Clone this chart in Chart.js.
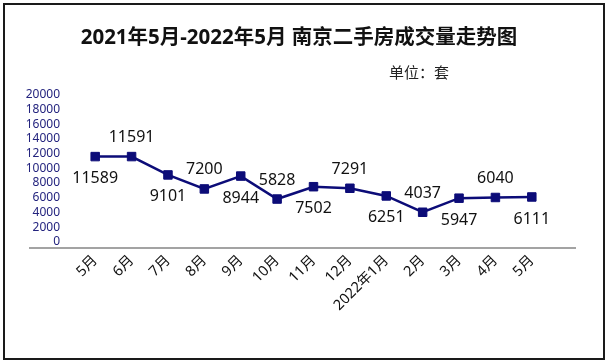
<!DOCTYPE html>
<html>
<head>
<meta charset="utf-8">
<script src="https://cdn.jsdelivr.net/npm/chart.js@4.4.0/dist/chart.umd.min.js"></script>
<style>
  html, body { margin: 0; padding: 0; background: #fff; }
  #wrap { position: relative; width: 607px; height: 364px; }
  #frame { position: absolute; left: 3px; top: 3px; width: 598px; height: 353px; border: 2px solid #1a1a1a; pointer-events: none; }
  canvas { position: absolute; left: 0; top: 0; }
</style>
</head>
<body>
<div id="wrap">
  <canvas id="chart" width="607" height="364"></canvas>
  <div id="frame"></div>
</div>
<script>
// 南京二手房成交量 (套), 2021年5月 - 2022年5月
const months = ['5月', '6月', '7月', '8月', '9月', '10月', '11月', '12月', '2022年1月', '2月', '3月', '4月', '5月'];
const volumes = [11589, 11591, 9101, 7200, 8944, 5828, 7502, 7291, 6251, 4037, 5947, 6040, 6111];
const yTicks = [0, 2000, 4000, 6000, 8000, 10000, 12000, 14000, 16000, 18000, 20000];

const FONT = '"Noto Sans", "Noto Sans CJK SC", sans-serif';
const NAVY = '#0c0c78';

// gray baseline under the plot, unit text and value labels
const extras = {
    id: 'extras',
    afterDatasetsDraw(chart) {
        const { ctx, chartArea } = chart;
        ctx.save();
        ctx.strokeStyle = '#a3a3a3';
        ctx.lineWidth = 2;
        ctx.beginPath();
        ctx.moveTo(29, chartArea.bottom + 6);
        ctx.lineTo(576, chartArea.bottom + 6);
        ctx.stroke();

        ctx.fillStyle = '#222';
        ctx.font = '15px ' + FONT;
        ctx.textAlign = 'left';
        ctx.textBaseline = 'middle';
        ctx.fillText('单位：套', 389, 74);

        const meta = chart.getDatasetMeta(0);
        ctx.fillStyle = '#111';
        ctx.font = '16px ' + FONT;
        ctx.textAlign = 'center';
        meta.data.forEach((pt, i) => {
            const dy = i % 2 === 0 ? 22 : -19;
            ctx.fillText(String(volumes[i]), pt.x, pt.y + dy);
        });
        ctx.restore();
    }
};

new Chart(document.getElementById('chart'), {
    type: 'line',
    data: {
        labels: months,
        datasets: [{
            data: volumes,
            borderColor: NAVY,
            backgroundColor: NAVY,
            borderWidth: 2.5,
            pointStyle: 'rect',
            pointRadius: 6,
            pointBorderWidth: 1,
            tension: 0
        }]
    },
    options: {
        responsive: false,
        animation: false,
        layout: { padding: { left: 0, right: 9, top: 0, bottom: 0 } },
        plugins: {
            legend: { display: false },
            tooltip: { enabled: false },
            title: {
                display: true,
                text: '2021年5月-2022年5月 南京二手房成交量走势图',
                color: '#111',
                font: { family: FONT, size: 20.5, weight: 'bold' },
                padding: { top: 26, bottom: 44 }
            }
        },
        scales: {
            x: {
                offset: true,
                grid: { display: false, drawTicks: false },
                border: { display: false },
                ticks: {
                    color: '#111',
                    font: { family: FONT, size: 14.5 },
                    minRotation: 45,
                    maxRotation: 45,
                    autoSkip: false,
                    padding: 10
                },
                afterFit: s => { s.height = 122; }
            },
            y: {
                min: 0,
                max: 20000,
                afterBuildTicks: s => { s.ticks = yTicks.map(v => ({ value: v })); },
                grid: { display: false, drawTicks: false },
                border: { display: false },
                ticks: {
                    color: '#23237e',
                    font: { family: FONT, size: 12 },
                    padding: 17,
                    autoSkip: false,
                    callback: v => String(v)
                },
                afterFit: s => { s.width = 77; }
            },
            // empty right margin so the plot ends where the original does
            y2: {
                position: 'right',
                grid: { display: false, drawTicks: false },
                border: { display: false },
                ticks: { display: false },
                afterFit: s => { s.width = 48; }
            }
        }
    },
    plugins: [extras]
});
</script>
</body>
</html>
